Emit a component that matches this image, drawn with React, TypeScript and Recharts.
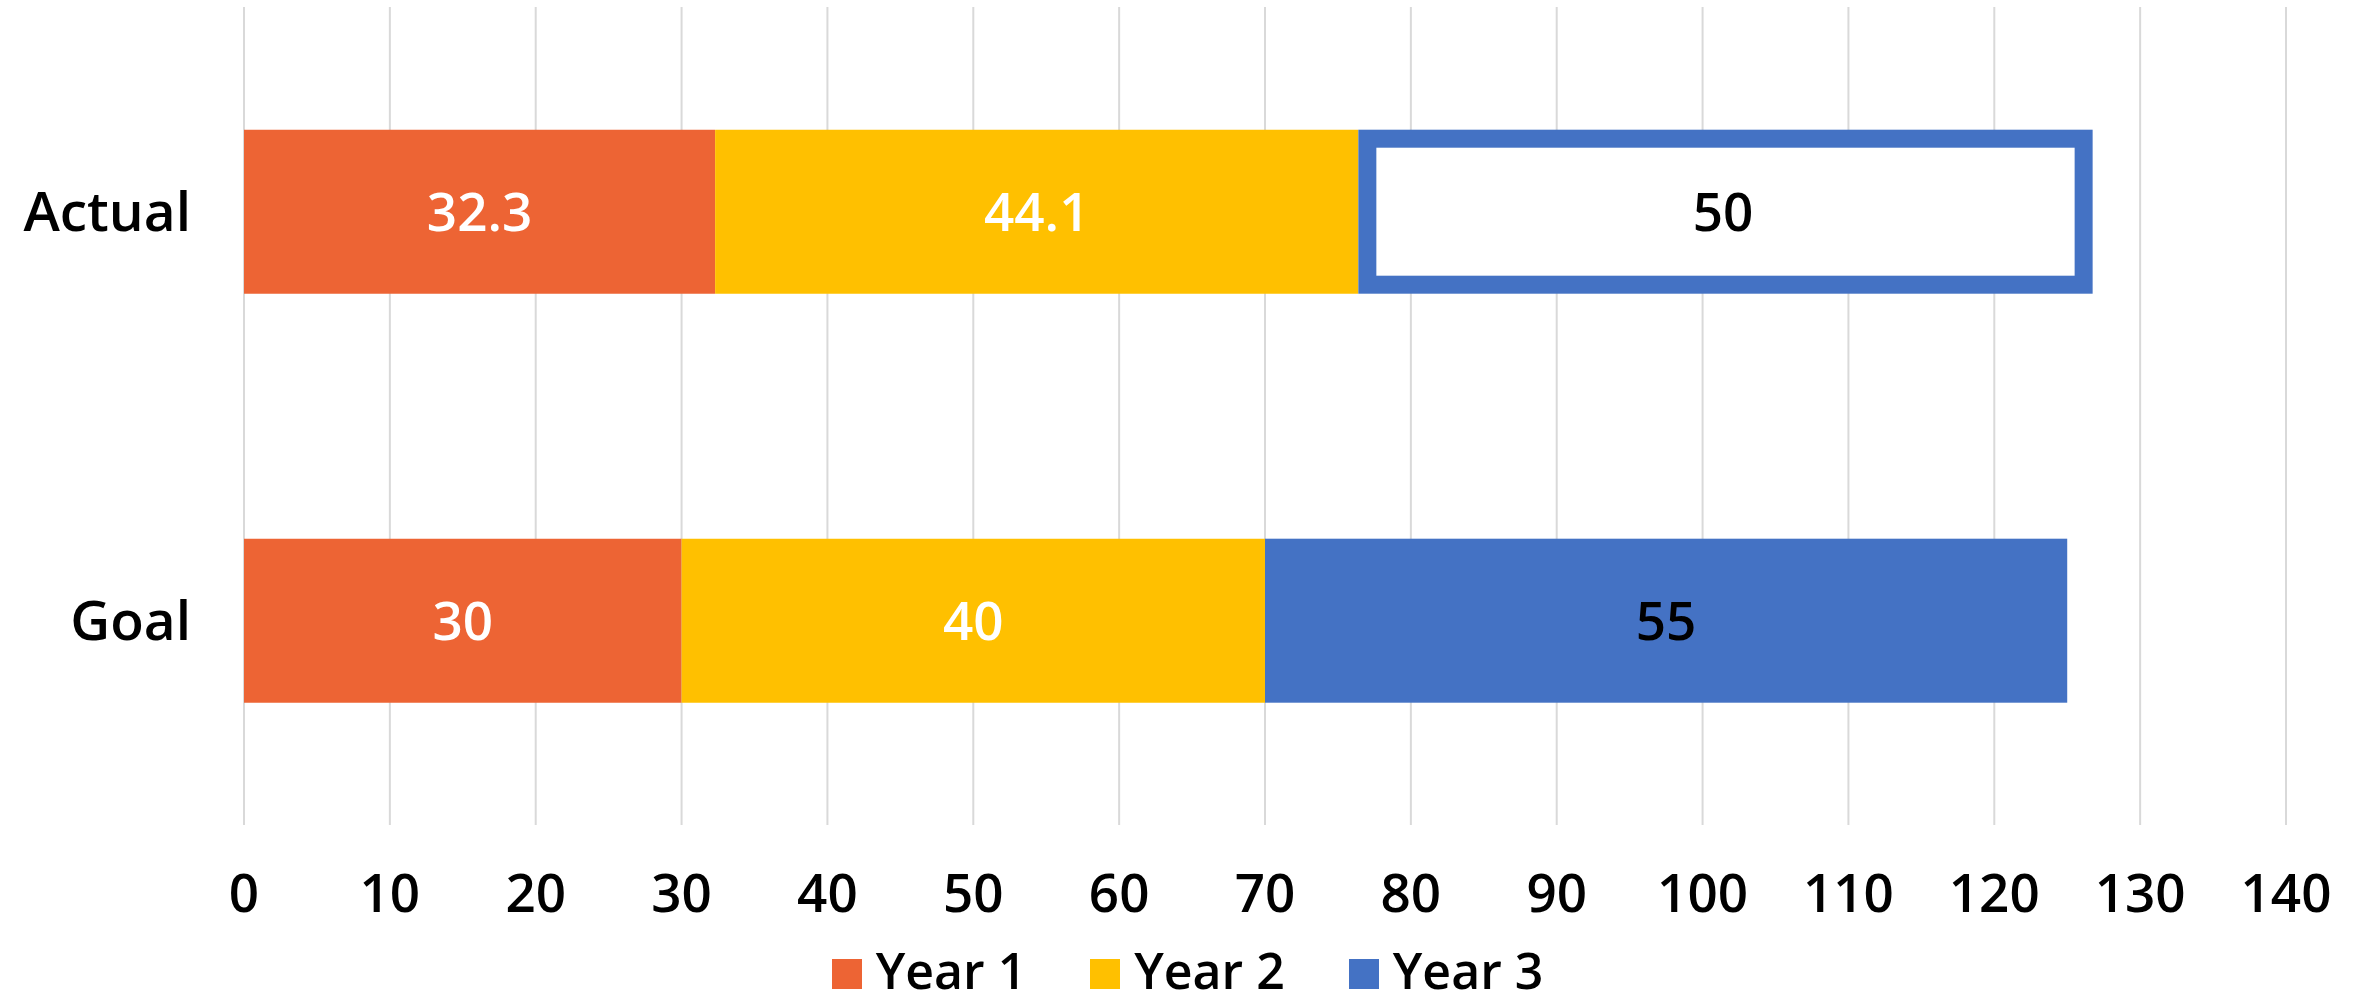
import { BarChart, Bar, XAxis, YAxis, CartesianGrid, Legend, LabelList } from 'recharts';

// Categories and series values
const categories = ['Actual', 'Goal'];
const year1 = [32.3, 30];
const year2 = [44.1, 40];
const year3 = [50, 55];
const xTicks = [0, 10, 20, 30, 40, 50, 60, 70, 80, 90, 100, 110, 120, 130, 140];

// Only the "Actual" year 3 segment is drawn as an outline
const outlinedCategories = ['Actual'];

const series = [
  { key: 'year1', name: 'Year 1', color: '#ED6434', labelColor: '#FFFFFF' },
  { key: 'year2', name: 'Year 2', color: '#FFC000', labelColor: '#FFFFFF' },
  { key: 'year3', name: 'Year 3', color: '#4472C4', labelColor: '#000000' },
];

const chartData = categories.map((category, i) => ({
  category,
  year1: year1[i],
  year2: year2[i],
  year3: year3[i],
}));

const FONT = '"Open Sans", "DejaVu Sans", sans-serif';
const WEIGHT = 600;

// Year 3 bar: outlined for the actual value, solid for the goal
const Year3Shape = (props: any) => {
  const { x, y, width, height, payload } = props;
  if (outlinedCategories.includes(payload.category)) {
    const sw = 18;
    return (
      <rect
        x={x + sw / 2}
        y={y + sw / 2}
        width={width - sw + 5}
        height={height - sw}
        fill="#FFFFFF"
        stroke="#4472C4"
        strokeWidth={sw}
      />
    );
  }
  return <rect x={x} y={y} width={width} height={height} fill="#4472C4" />;
};

// Legend personalizada
const CustomLegend = () => (
  <div
    style={{
      height: 68,
      display: 'flex',
      justifyContent: 'center',
      alignItems: 'center',
      fontFamily: FONT,
      fontWeight: WEIGHT,
      fontSize: 50,
      color: '#000',
    }}
  >
    {series.map((s, i) => (
      <div
        key={s.key}
        style={{
          display: 'flex',
          alignItems: 'center',
          marginRight: i < series.length - 1 ? 64 : 0,
        }}
      >
        <span style={{ width: 30, height: 30, background: s.color, marginRight: 14, marginTop: 8 }} />
        <span>{s.name}</span>
      </div>
    ))}
  </div>
);

function App() {
  return (
    <div style={{ position: 'absolute', left: 0, top: 0, width: 2361, height: 1004, background: '#fff' }}>
      <BarChart
        width={2361}
        height={1004}
        data={chartData}
        layout="vertical"
        margin={{ top: 7, right: 75, left: 0, bottom: 0 }}
        barCategoryGap="30%"
        style={{ fontFamily: FONT }}
      >
        <CartesianGrid horizontal={false} stroke="#D9D9D9" strokeWidth={2} />
        <XAxis
          type="number"
          domain={[0, 140]}
          ticks={xTicks}
          interval={0}
          axisLine={false}
          tickLine={false}
          tickSize={0}
          tickMargin={49}
          height={111}
          tick={{ fill: '#000', fontSize: 53, fontWeight: WEIGHT, fontFamily: FONT }}
        />
        <YAxis
          type="category"
          dataKey="category"
          width={244}
          axisLine={false}
          tickLine={false}
          tickSize={0}
          tickMargin={53}
          tick={{ fill: '#000', fontSize: 55, fontWeight: WEIGHT, fontFamily: FONT }}
        />
        <Legend
          verticalAlign="bottom"
          content={<CustomLegend />}
          wrapperStyle={{ left: 14, width: 2347, bottom: 0 }}
        />
        <Bar dataKey="year1" name="Year 1" stackId="a" fill={series[0].color} isAnimationActive={false}>
          <LabelList
            dataKey="year1"
            position="center"
            fill={series[0].labelColor}
            style={{ fontSize: 53, fontWeight: WEIGHT, fontFamily: FONT }}
          />
        </Bar>
        <Bar dataKey="year2" name="Year 2" stackId="a" fill={series[1].color} isAnimationActive={false}>
          <LabelList
            dataKey="year2"
            position="center"
            fill={series[1].labelColor}
            style={{ fontSize: 53, fontWeight: WEIGHT, fontFamily: FONT }}
          />
        </Bar>
        <Bar
          dataKey="year3"
          name="Year 3"
          stackId="a"
          fill={series[2].color}
          shape={<Year3Shape />}
          isAnimationActive={false}
        >
          <LabelList
            dataKey="year3"
            position="center"
            fill={series[2].labelColor}
            style={{ fontSize: 53, fontWeight: WEIGHT, fontFamily: FONT }}
          />
        </Bar>
      </BarChart>
    </div>
  );
}

export default App;
